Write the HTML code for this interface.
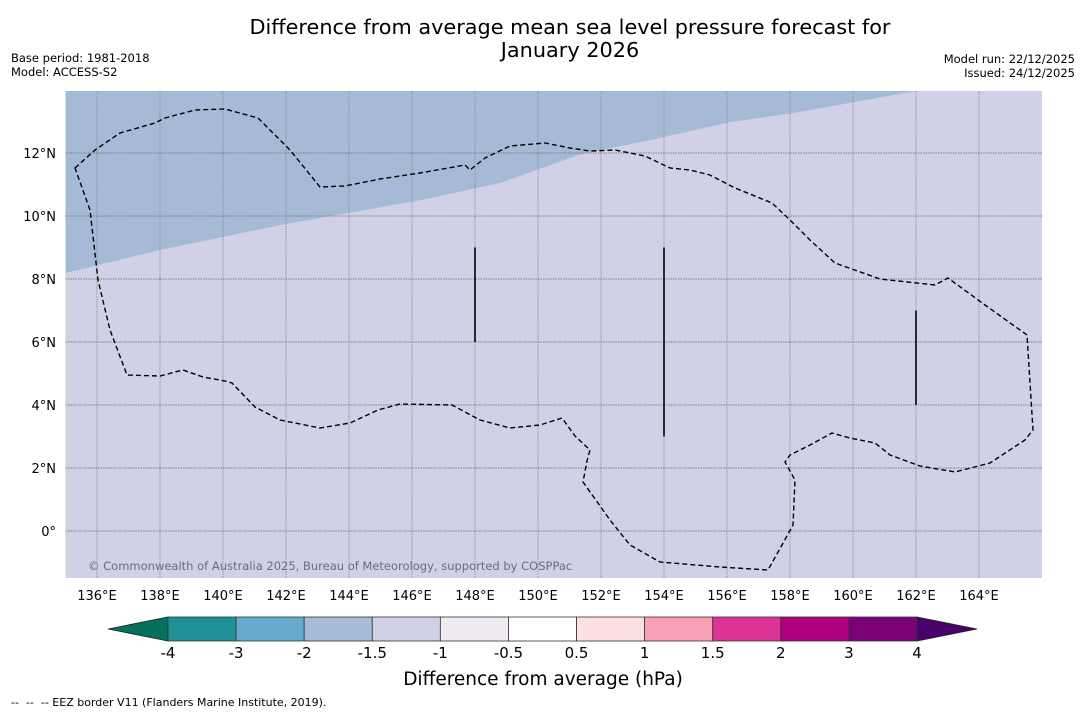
<!DOCTYPE html>
<html><head><meta charset="utf-8"><style>
body{margin:0;background:#fff;font-family:"DejaVu Sans","Liberation Sans",sans-serif;}
svg text{font-family:"DejaVu Sans","Liberation Sans",sans-serif;}
</style></head><body>
<svg id="c" width="1085" height="713" viewBox="0 0 1085 713">
<text x="570" y="34" font-size="20.8" text-anchor="middle">Difference from average mean sea level pressure forecast for</text>
<text x="570" y="57" font-size="20.8" text-anchor="middle">January 2026</text>
<text x="11" y="62" font-size="11.5">Base period: 1981-2018</text>
<text x="11" y="76" font-size="11.5">Model: ACCESS-S2</text>
<text x="1075" y="63" font-size="11.5" text-anchor="end">Model run: 22/12/2025</text>
<text x="1075" y="77" font-size="11.5" text-anchor="end">Issued: 24/12/2025</text>
<g id="map"></g>
<g id="cb"></g>
<text x="543" y="685" font-size="18.5" text-anchor="middle">Difference from average (hPa)</text>
<text x="11" y="706" font-size="11" xml:space="preserve">--  --  -- EEZ border V11 (Flanders Marine Institute, 2019).</text>
</svg>
<script>
const lonTicks=[136,138,140,142,144,146,148,150,152,154,156,158,160,162,164];
const latTicks=[0,2,4,6,8,10,12];
const boundaryLon=[135,138,141.8,146.25,148.8,151.3,153.55,156.1,158.3,162];
const boundaryLat=[8.19,8.92,9.71,10.5,11.05,11.94,12.41,12.98,13.3,13.97];
const segLon=[148,154,162];
const segLat0=[6,3,4];
const segLat1=[9,9,7];
const levels=["-4","-3","-2","-1.5","-1","-0.5","0.5","1","1.5","2","3","4"];
const colors=["#1e9196","#67a9cf","#a6bbd9","#d0d0e6","#f0ebf3","#ffffff","#fde0e0","#f8a0b6","#dd3497","#ae017e","#7a0177"];
const NS="http://www.w3.org/2000/svg";
const X0=65.5,X1=1042,Y0=91,Y1=578;
const xs=lon=>97+(lon-136)*31.5;
const ys=lat=>531-lat*31.5;
function mk(t,a,p){const e=document.createElementNS(NS,t);for(const k in a)e.setAttribute(k,a[k]);p.appendChild(e);return e;}
const map=document.getElementById('map');
const bg=mk('rect',{x:X0,y:Y0,width:X1-X0,height:Y1-Y0,fill:'#d0d0e6'},map);


let d='M'+X0+','+Y0;
boundaryLon.forEach((l,i)=>{d+=' L'+xs(l)+','+ys(boundaryLat[i]);});
d+=' Z';
const blue=mk('path',{d:d,fill:'#a6bad8'},map);


lonTicks.forEach(l=>{
 const g=mk('line',{x1:xs(l),x2:xs(l),y1:Y0,y2:Y1,stroke:'#888',"stroke-width":0.8,"stroke-dasharray":"1.5,1"},map);
 
 
 const t=mk('text',{x:xs(l),y:600,"font-size":13,"text-anchor":"middle"},map);
 t.textContent=l+'°E';
 
 
});
latTicks.forEach(l=>{
 const g=mk('line',{x1:X0,x2:X1,y1:ys(l),y2:ys(l),stroke:'#666',"stroke-width":0.8,"stroke-dasharray":"1.5,1"},map);
 
 
 const t=mk('text',{x:56,y:ys(l)+5,"font-size":13,"text-anchor":"end"},map);
 t.textContent=l===0?'0°':l+'°N';
 
 
});
const eez=mk('path',{d:"M75,168 L95,150 L120,133 L155,123 L165,118 L195,110 L225,109 L258,118 L290,150 L320,187 L345,186 L380,179 L420,173 L465,165 L470,170 L485,158 L510,146 L545,143 L570,148 L590,151 L615,150 L645,156 L670,168 L690,170 L710,175 L735,188 L772,203 L790,220 L810,240 L835,263 L880,279 L935,285 L948,278 L985,305 L1027,335 L1033,430 L1025,440 L990,463 L955,472 L920,466 L890,455 L875,443 L850,438 L832,433 L810,445 L790,455 L785,462 L795,480 L793,525 L782,545 L768,570 L720,567 L660,562 L630,545 L610,520 L583,482 L587,461 L590,450 L575,436 L562,418 L540,425 L510,428 L480,420 L452,405 L400,404 L378,410 L350,423 L320,428 L280,420 L255,407 L232,383 L225,381 L203,377 L183,370 L160,376 L127,375 L110,330 L98,280 L90,210 Z",fill:'none',stroke:'#000',"stroke-width":1.4,"stroke-dasharray":"5,3"},map);


segLon.forEach((l,i)=>{
 const s=mk('line',{x1:xs(l),x2:xs(l),y1:ys(segLat0[i]),y2:ys(segLat1[i]),stroke:'#000',"stroke-width":1.6},map);
 
 
});
const cr=mk('text',{x:88,y:570,"font-size":11.5,fill:'#6a6a80'},map);
cr.textContent='© Commonwealth of Australia 2025, Bureau of Meteorology, supported by COSPPac';


const cb=document.getElementById('cb');
const bx0=168,bw=(917-168)/colors.length,by=617,bh=24;
const lt=mk('polygon',{points:`108,629 ${bx0},${by} ${bx0},${by+bh}`,fill:'#05705e',stroke:'#222',"stroke-width":0.8},cb);


const rt=mk('polygon',{points:`977,629 917,${by} 917,${by+bh}`,fill:'#49006a',stroke:'#222',"stroke-width":0.8},cb);


colors.forEach((c,i)=>{
 const r=mk('rect',{x:bx0+i*bw,y:by,width:bw,height:bh,fill:c,stroke:'#333',"stroke-width":0.8},cb);
 
 
});
levels.forEach((v,i)=>{
 const t=mk('text',{x:bx0+i*bw,y:658,"font-size":15,"text-anchor":"middle"},cb);
 t.textContent=v;
 
 
});
</script>
</body></html>
